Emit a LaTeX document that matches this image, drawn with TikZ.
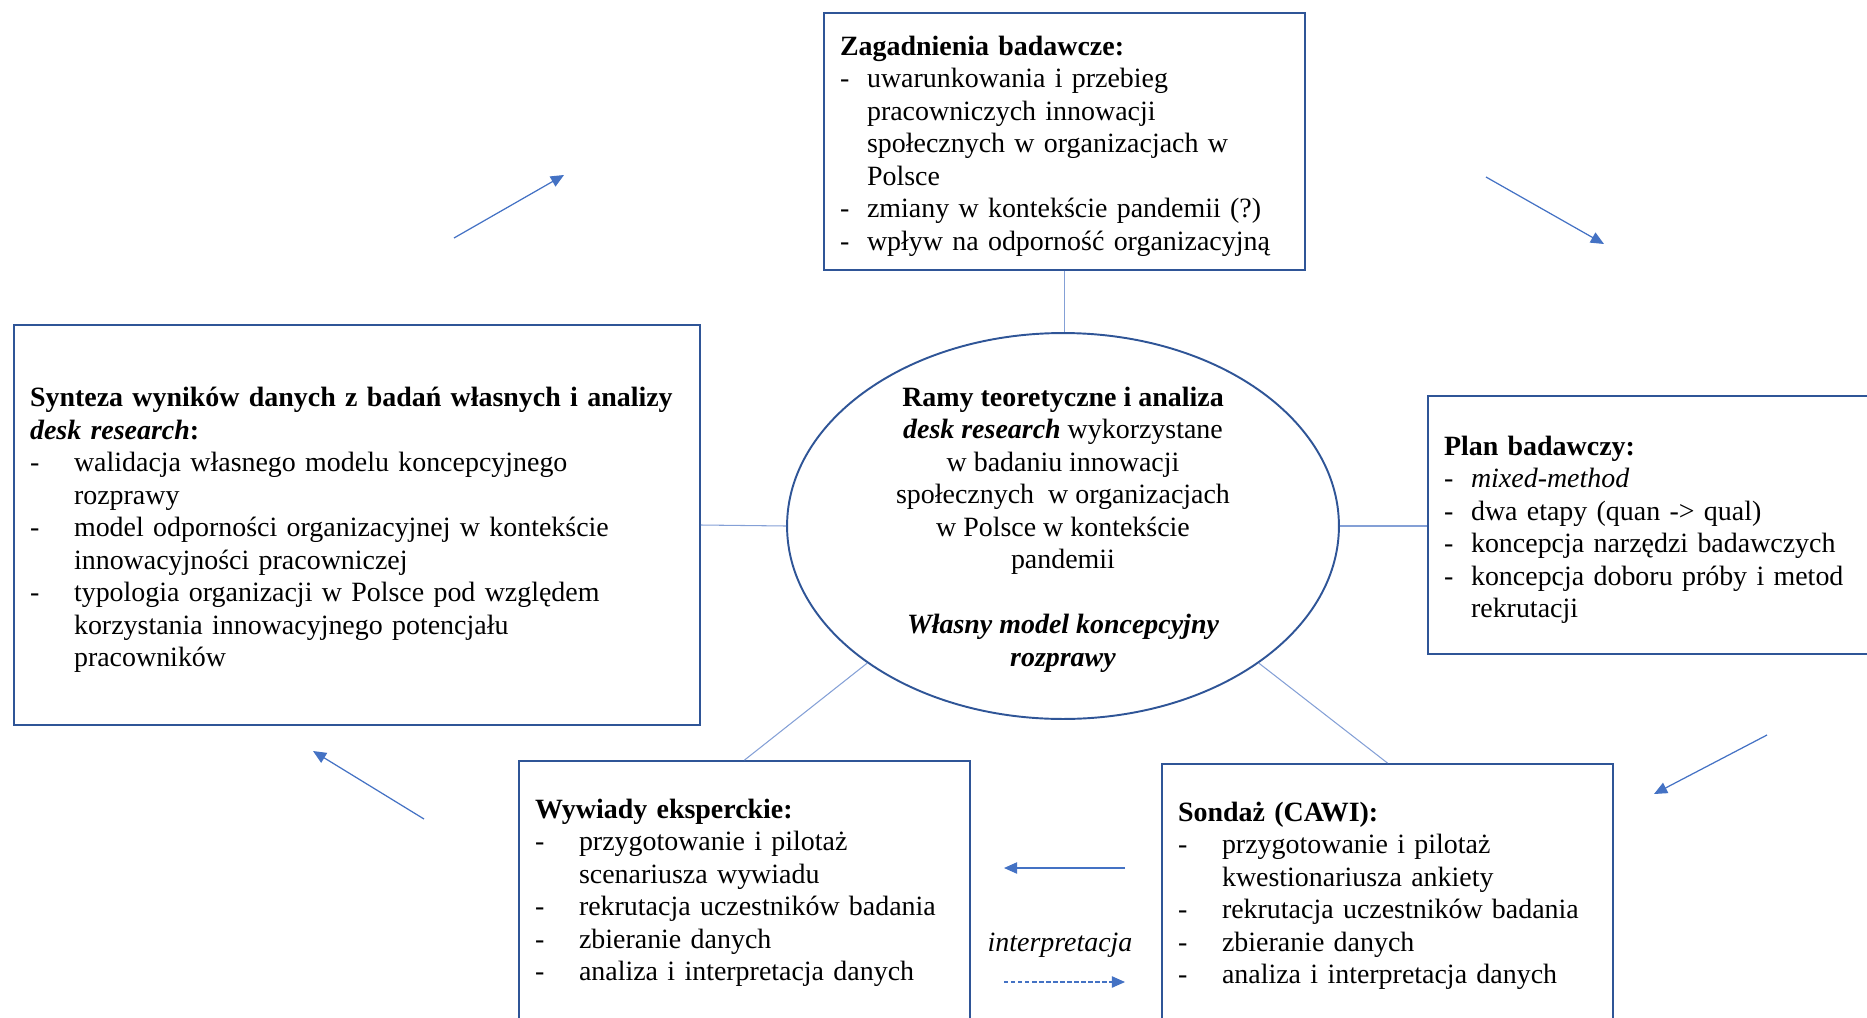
\documentclass[tikz,border=0pt]{standalone}
\usepackage{fontspec}
\setmainfont{Liberation Serif}
\usepackage{tikz}
\usetikzlibrary{arrows.meta, positioning, shapes.geometric}
\definecolor{boxblue}{RGB}{47,85,151}
\definecolor{linkblue}{RGB}{68,114,196}
\definecolor{thinblue}{RGB}{132,160,214}
\newlength{\dashind}
\newcommand{\hd}[1]{\mbox{\rule{0pt}{16.5pt}\textbf{#1}}}
\newcommand{\itm}[1]{\mbox{\makebox[\dashind][l]{-}#1}}
\newcommand{\cnt}[1]{\mbox{\hspace*{\dashind}#1}}
\newcommand{\lowend}{\rule[-12.6pt]{0pt}{1pt}}
\tikzset{
  infobox/.style={rectangle, draw=boxblue, line width=1.1pt,
    align=left, inner xsep=0.32cm, inner ysep=0pt,
    font=\fontsize{15.9pt}{18.5pt}\selectfont},
  narrow/.style={execute at begin node={\setlength{\dashind}{0.54cm}}},
  wide/.style={execute at begin node={\setlength{\dashind}{0.88cm}}},
  hub/.style={ellipse, draw=boxblue, line width=1.1pt,
    minimum width=11.04cm, minimum height=7.72cm, inner sep=0pt},
  hubtext/.style={align=center, font=\fontsize{15.9pt}{18.5pt}\selectfont},
  link/.style={draw=thinblue, line width=0.6pt},
  flow/.style={-{Triangle[length=7.5pt,width=6.5pt]}, draw=linkblue, line width=0.7pt}
}
\begin{document}
\begin{tikzpicture}[x=0.02cm, y=-0.02cm]
  \clip (0,0) rectangle (1867,1018);

  % Central ellipse
  \node[hub] (hub) at (1063,526) {};
  \node[hubtext, yshift=-2pt] (hubtxt) at (hub.center) {\textbf{Ramy teoretyczne i analiza}\\
    \textbf{\textit{desk research}} wykorzystane\\
    w badaniu innowacji\\
    społecznych \ w organizacjach\\
    w Polsce w kontekście\\
    pandemii\\[18.5pt]
    \textbf{\textit{Własny model koncepcyjny}}\\
    \textbf{\textit{rozprawy}}};

  % Boxes around it
  \node[infobox, narrow, minimum width=9.62cm, minimum height=5.14cm, text width=8.98cm]
    (zag) at (1064.5,141.5) {\hd{Zagadnienia badawcze:}\\
    \itm{uwarunkowania i przebieg}\\
    \cnt{pracowniczych innowacji}\\
    \cnt{społecznych w organizacjach w}\\
    \cnt{Polsce}\\
    \itm{zmiany w kontekście pandemii (?)}\\
    \itm{wpływ na odporność organizacyjną}};

  \node[infobox, wide, minimum width=13.72cm, minimum height=8cm, text width=13.08cm]
    (syn) at (357,525) {\hd{Synteza wyników danych z badań własnych i analizy}\\
    \mbox{\textbf{\textit{desk research}:}}\\
    \itm{walidacja własnego modelu koncepcyjnego}\\
    \cnt{rozprawy}\\
    \itm{model odporności organizacyjnej w kontekście}\\
    \cnt{innowacyjności pracowniczej}\\
    \itm{typologia organizacji w Polsce pod względem}\\
    \cnt{korzystania innowacyjnego potencjału}\\
    \cnt{pracowników}};

  \node[infobox, narrow, minimum width=9.2cm, minimum height=5.16cm, text width=8.56cm]
    (plan) at (1658,525) {\hd{Plan badawczy:}\\
    \itm{\textit{mixed-method}}\\
    \itm{dwa etapy (quan -> qual)}\\
    \itm{koncepcja narzędzi badawczych}\\
    \itm{koncepcja doboru próby i metod}\\
    \cnt{rekrutacji}};

  \node[infobox, wide, minimum width=9.02cm, minimum height=5.4cm, text width=8.38cm]
    (wyw) at (744.5,896) {\hd{Wywiady eksperckie:}\\
    \itm{przygotowanie i pilotaż}\\
    \cnt{scenariusza wywiadu}\\
    \itm{rekrutacja uczestników badania}\\
    \itm{zbieranie danych}\\
    \itm{analiza i interpretacja danych}\lowend};

  \node[infobox, wide, minimum width=9.02cm, minimum height=5.4cm, text width=8.38cm]
    (cawi) at (1387.5,899) {\hd{Sondaż (CAWI):}\\
    \itm{przygotowanie i pilotaż}\\
    \cnt{kwestionariusza ankiety}\\
    \itm{rekrutacja uczestników badania}\\
    \itm{zbieranie danych}\\
    \itm{analiza i interpretacja danych}\lowend};

  % Links to the ellipse
  \draw[link] (zag.south) -- (zag.south |- hub.north);
  \draw[link] (syn.east) -- (hub.west);
  \draw[link] (hub.east) -- (hub.east -| plan.west);
  \draw[link] (hub.215) -- (wyw.north);
  \draw[link] (hub.325) -- (cawi.north);

  % Free arrows of the cycle
  \coordinate (ulA) at (454,238);   \coordinate (ulB) at (564,175);
  \coordinate (urA) at (1486,177);  \coordinate (urB) at (1604,244);
  \coordinate (rlA) at (1767,735);  \coordinate (rlB) at (1654,794);
  \coordinate (llA) at (424,819);   \coordinate (llB) at (313,751);
  \coordinate (midA) at (1125,868); \coordinate (midB) at (1004,868);
  \coordinate (dotA) at (1004,982); \coordinate (dotB) at (1125,982);

  \draw[flow] (ulA) -- (ulB);
  \draw[flow] (urA) -- (urB);
  \draw[flow] (rlA) -- (rlB);
  \draw[flow] (llA) -- (llB);
  \draw[flow] (midA) -- (midB);
  \draw[flow, dash pattern=on 2.5pt off 1.5pt] (dotA) -- (dotB);
  \node[hubtext, font=\fontsize{15.9pt}{18.5pt}\selectfont\itshape] (interp) at (1060,945) {interpretacja};
\end{tikzpicture}
\end{document}
